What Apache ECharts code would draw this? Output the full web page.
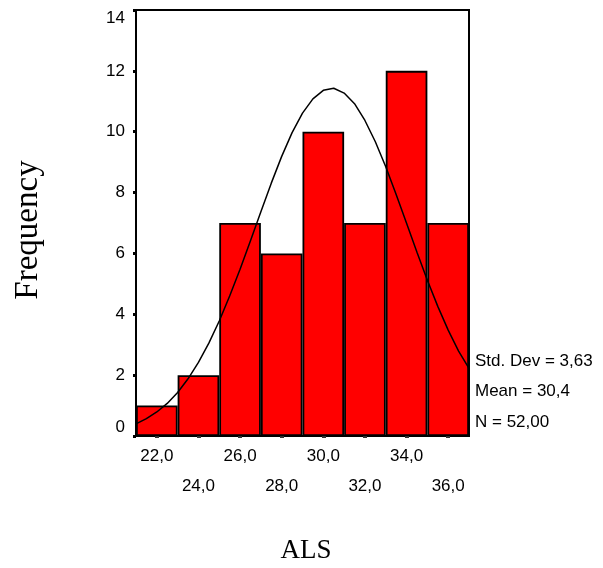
<!DOCTYPE html>
<html>
<head>
<meta charset="utf-8">
<script src="https://cdn.jsdelivr.net/npm/echarts@6/dist/echarts.min.js"></script>
<style>
html,body{margin:0;padding:0;background:#fff;}
#chart{width:603px;height:568px;}
</style>
</head>
<body>
<div id="chart"></div>
<script>
var categories = ['22,0','24,0','26,0','28,0','30,0','32,0','34,0','36,0'];
var frequencies = [1, 2, 7, 6, 10, 7, 12, 7];
var curveX = [21, 21.5, 22, 22.5, 23, 23.5, 24, 24.5, 25, 25.5, 26, 26.5, 27, 27.5, 28, 28.5, 29,
              29.5, 30, 30.5, 31, 31.5, 32, 32.5, 33, 33.5, 34, 34.5, 35, 35.5, 36, 36.5, 37];
var curveY = [0.40, 0.57, 0.79, 1.07, 1.43, 1.88, 2.42, 3.05, 3.78, 4.60, 5.48, 6.42, 7.37, 8.31, 9.19, 9.97, 10.61,
              11.08, 11.36, 11.43, 11.27, 10.92, 10.37, 9.67, 8.85, 7.94, 6.99, 6.04, 5.12, 4.26, 3.48, 2.79, 2.22];
var yTicks = [0, 2, 4, 6, 8, 10, 12, 14];
var statsLines = ['Std. Dev = 3,63', 'Mean = 30,4', 'N = 52,00'];
var xTitle = 'ALS';
var yTitle = 'Frequency';

var chart = echarts.init(document.getElementById('chart'));
var sans = '"Liberation Sans", Arial, sans-serif';
var serif = '"Liberation Serif", "Times New Roman", serif';

var curveData = curveX.map(function (x, i) { return [x, curveY[i]]; });

var option = {
  backgroundColor: '#ffffff',
  animation: false,
  grid: {
    left: 136, top: 10, right: 134, bottom: 132,
    show: true, borderColor: '#000', borderWidth: 2, backgroundColor: 'transparent'
  },
  xAxis: [{
    type: 'category',
    data: categories,
    boundaryGap: true,
    axisLine: { show: true, lineStyle: { color: '#000', width: 1 } },
    axisTick: { show: true, alignWithLabel: true, length: 2, lineStyle: { color: '#333', width: 4 } },
    axisLabel: {
      interval: 0, margin: 5, lineHeight: 30,
      color: '#000', fontFamily: sans, fontSize: 17,
      formatter: function (v, i) { return i % 2 === 1 ? '\n' + v : v; }
    },
    splitLine: { show: false }
  }, {
    type: 'value', min: 21, max: 37, show: false
  }],
  yAxis: {
    type: 'value', min: yTicks[0], max: yTicks[yTicks.length - 1], interval: 2,
    axisLine: { show: true, lineStyle: { color: '#000', width: 2 } },
    axisTick: { show: true, length: 3, lineStyle: { color: '#000', width: 3 } },
    axisLabel: {
      margin: 11, color: '#000', fontFamily: sans, fontSize: 17,
      verticalAlignMinLabel: 'bottom', verticalAlignMaxLabel: 'top'
    },
    splitLine: { show: false }
  },
  series: [{
    type: 'bar',
    data: frequencies,
    xAxisIndex: 0,
    barCategoryGap: '0%',
    itemStyle: { color: '#ff0000', borderColor: '#000', borderWidth: 1.8 },
    z: 2
  }, {
    type: 'line',
    xAxisIndex: 1,
    data: curveData,
    smooth: false,
    showSymbol: false,
    lineStyle: { color: '#000', width: 1.5 },
    z: 5
  }],
  graphic: [
    {
      type: 'text', x: 306, y: 551,
      style: { text: xTitle, font: '27px ' + serif, fill: '#000', textAlign: 'center', textVerticalAlign: 'middle' }
    },
    {
      type: 'text', x: 28, y: 230, rotation: Math.PI / 2,
      style: { text: yTitle, font: '33px ' + serif, fill: '#000', textAlign: 'center', textVerticalAlign: 'middle' }
    }
  ].concat(statsLines.map(function (t, i) {
    return {
      type: 'text', x: 475, y: 361 + i * 30.5,
      style: { text: t, font: '17px ' + sans, fill: '#000', textAlign: 'left', textVerticalAlign: 'middle' }
    };
  }))
};
chart.setOption(option);
</script>
</body>
</html>
